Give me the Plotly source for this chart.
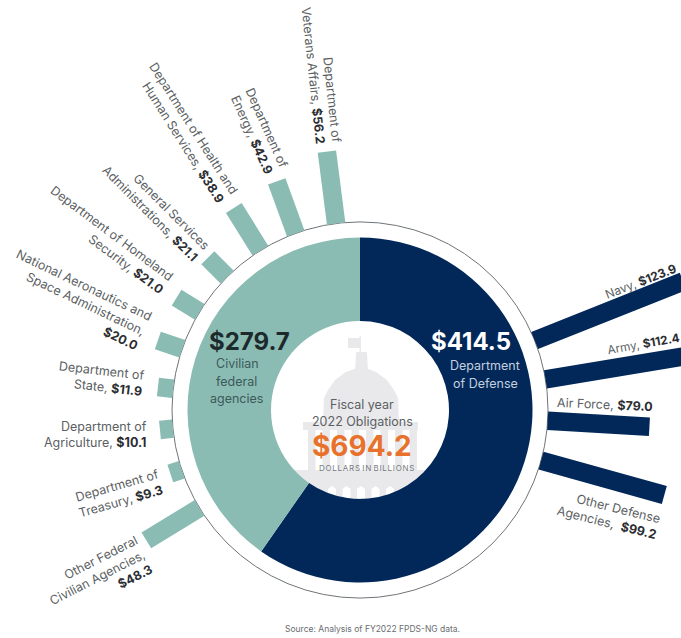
import plotly.graph_objects as go

# ---- data ----
groups = ["Department of Defense", "Civilian federal agencies"]
group_values = [414.5, 279.7]

civilian_names = ["Department of Veterans Affairs", "Department of Energy", "Department of Health and Human Services",
                  "General Services Administrations", "Department of Homeland Security",
                  "National Aeronautics and Space Administration", "Department of State",
                  "Department of Agriculture", "Department of Treasury", "Other Federal Civilian Agencies"]
civilian_values = [56.2, 42.9, 38.9, 21.1, 21.0, 20.0, 11.9, 10.1, 9.3, 48.3]

defense_names = ["Navy", "Army", "Air Force", "Other Defense Agencies"]
defense_values = [123.9, 112.4, 79.0, 99.2]

# ---- bar directions, degrees clockwise from north ----
civilian_angles = [352.7, 340, 328, 315, 301.5, 289, 276.5, 264.3, 251.5, 238.6]
defense_angles = [68.3, 80.6, 93.3, 105.6]

# ---- page geometry (px). The figure is larger than the window so the long bars can run to its edge ----
W, H = 720, 820
CX, CY = 360, 410
R_OUT, R_HOLE, R_RING, R_PLOT = 172.5, 89, 188, 360
PX_PER_UNIT = 1.29

TEAL, NAVY, ORANGE = "#8abcb4", "#02285a", "#e8722c"
GREY, DARK = "#5c5f63", "#2a2d31"
FONT = "Inter"


def px(x):
    return x / W


def py(y):
    return 1 - y / H


def spokes(values, angles):
    r, t = [], []
    for v, a in zip(values, angles):
        r += [0, v, None]
        t += [a, a, None]
    return r, t


fig = go.Figure()
fig.add_trace(go.Pie(
    labels=groups, values=group_values, sort=False, direction="clockwise", rotation=0,
    hole=R_HOLE / R_OUT, textinfo="none", marker=dict(colors=[NAVY, TEAL], line=dict(width=0)),
    domain=dict(x=[px(CX - R_OUT), px(CX + R_OUT)], y=[py(CY + R_OUT), py(CY - R_OUT)]),
    hoverinfo="label+value", showlegend=False))

for vals, angs, col, names in [(civilian_values, civilian_angles, TEAL, civilian_names),
                               (defense_values, defense_angles, NAVY, defense_names)]:
    r, t = spokes(vals, angs)
    fig.add_trace(go.Scatterpolar(r=r, theta=t, mode="lines", line=dict(color=col, width=18.5),
                                  connectgaps=False, hoverinfo="skip", showlegend=False))


def label(lines, x, y, angle, align="right", size=12.5):
    fig.add_annotation(text="<br>".join(lines), x=px(x), y=py(y), xref="paper", yref="paper",
                       xanchor="center", yanchor="middle", textangle=angle, align=align, showarrow=False,
                       font=dict(family=FONT, size=size, color=GREY))


def b(s):
    return f"<b style='color:{DARK}'>{s}</b>"


label(["Department of", f"Veterans Affairs, {b('$56.2')}"], 321, 75, 84)
label(["Department of", f"Energy, {b('$42.9')}"], 260, 131, 66)
label(["Department of Health and", f"Human Services, {b('$38.9')}"], 187, 132, 57.5)
label(["General Services", f"Administrations, {b('$21.1')}"], 156, 207, 45)
label(["Department of Homeland", f"Security, {b('$21.0')}"], 107, 239, 36.8)
label(["National Aeronautics and", "Space Administration,", b("$20.0")], 77, 300, 25.5)
label(["Department of", f"State, {b('$11.9')}"], 101, 378, 6.5)
label(["Department of", f"Agriculture, {b('$10.1')}"], 95.5, 434, 0)
label(["Department of", f"Treasury, {b('$9.3')}"], 118, 493, -16)
label(["Other Federal", "Civilian Agencies,", b("$48.3")], 97, 578, -27)
label([f"Navy, {b('$123.9')}"], 640, 281, -21, size=12)
label([f"Army, {b('$112.4')}"], 643.5, 344, -10, size=11.8)
label([f"Air Force, {b('$79.0')}"], 605, 404, 2.5)
label(["Other Defense", f"Agencies,  {b('$99.2')}"], 609, 514, 14)


def text(s, x, y, size, color, bold=False):
    fig.add_annotation(text=f"<b>{s}</b>" if bold else s, x=px(x), y=py(y), xref="paper", yref="paper",
                       xanchor="center", yanchor="middle", showarrow=False, align="center",
                       font=dict(family=FONT, size=size, color=color))


text("$279.7", 249, 342, 24, "#1d2a2c", True)
text("Civilian", 237, 364, 12.5, "#3c5a58")
text("federal", 236, 381, 12.5, "#3c5a58")
text("agencies", 236, 398, 12.5, "#3c5a58")
text("$414.5", 471, 342, 24, "#ffffff", True)
text("Department", 485, 366, 12.5, "#c3cfdf")
text("of Defense", 485, 383, 12.5, "#c3cfdf")
text("Fiscal year", 362, 404, 12.5, GREY)
text("2022 Obligations", 362, 421, 12.5, GREY)
text("$694.2", 362, 446, 28, ORANGE, True)
text("D O L L A R S  I N  B I L L I O N S".replace(" ", "\u200a").replace("\u200a\u200a", " "), 366, 468, 8, "#777a7e")
text("Source: Analysis of FY2022 FPDS-NG data.", 372, 629, 8.5, "#6a6d70")

# ---- faint capitol behind the centre text ----
SIL = "#e9e9ec"


def pth(points):
    return "M " + " L ".join(f"{px(x):.5f},{py(y):.5f}" for x, y in points) + " Z"


def sil(points, fill=SIL):
    fig.add_shape(type="path", path=pth(points), xref="paper", yref="paper", fillcolor=fill,
                  line=dict(width=0), layer="below")


sil([(348, 338), (360, 338), (360, 348), (348, 348)])
sil([(359.5, 336), (361, 336), (361, 362), (359.5, 362)])
sil([(356, 352), (367, 352), (368, 372), (355, 372)])
sil([(357, 368), (366, 368), (376, 372), (387, 380), (394, 390), (398, 398), (399, 424),
     (323, 424), (324, 398), (328, 390), (335, 380), (346, 372)])
sil([(303, 422), (418, 422), (418, 430), (303, 430)])
for i in range(8):
    x0 = 308 + i * 14.5
    sil([(x0, 430), (x0 + 7.5, 430), (x0 + 7.5, 472), (x0, 472)])
sil([(290, 470), (430, 470), (430, 510), (290, 510)])
for i in range(6):
    x0 = 328 + i * 14.5
    sil([(x0, 498), (x0, 489), (x0 + 4, 486), (x0 + 8, 489), (x0 + 8, 498)], "#ffffff")

fig.update_layout(
    width=W, height=H, margin=dict(l=0, r=0, t=0, b=0), paper_bgcolor="white", plot_bgcolor="white",
    showlegend=False,
    polar=dict(
        domain=dict(x=[0, 1], y=[0, 1]), bgcolor="rgba(0,0,0,0)",
        angularaxis=dict(visible=False, rotation=90, direction="clockwise"),
        radialaxis=dict(range=[-R_RING / PX_PER_UNIT, (R_PLOT - R_RING) / PX_PER_UNIT], tickvals=[0], showline=False,
                        showticklabels=False, ticks="", showgrid=True, gridcolor="#6f7478", gridwidth=1),
    ),
)

fig.write_html("out.html", config=dict(displayModeBar=False),
               post_script="document.documentElement.style.overflow='hidden';document.body.style.overflow='hidden';document.body.style.margin='0';")
